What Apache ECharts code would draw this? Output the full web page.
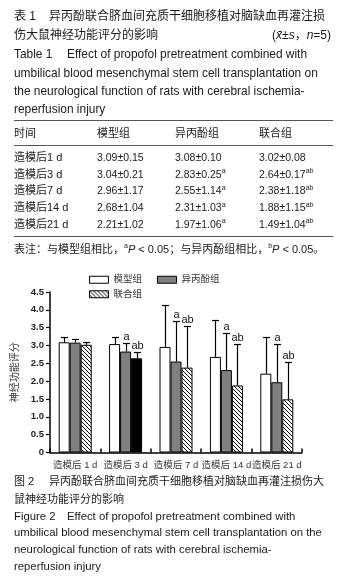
<!DOCTYPE html>
<html><head><meta charset="utf-8">
<script src="https://cdn.jsdelivr.net/npm/echarts@6/dist/echarts.min.js"></script>
<style>html,body{margin:0;padding:0;background:#fff}#c{width:348px;height:585px}</style>
</head><body><div id="c"></div>
<script>
// ---------- data ----------
const categories = ['造模后 1 d', '造模后 3 d', '造模后 7 d', '造模后 14 d', '造模后 21 d'];
const tableTimes = ['造模后1 d', '造模后3 d', '造模后7 d', '造模后14 d', '造模后21 d'];
const groupNames = ['模型组', '异丙酚组', '联合组'];
const modelMean = [3.09, 3.04, 2.96, 2.68, 2.21];
const modelSD   = [0.15, 0.21, 1.17, 1.04, 1.02];
const propMean  = [3.08, 2.83, 2.55, 2.31, 1.97];
const propSD    = [0.10, 0.25, 1.14, 1.03, 1.06];
const combMean  = [3.02, 2.64, 2.38, 1.88, 1.49];
const combSD    = [0.08, 0.17, 1.18, 1.15, 1.04];
const modelMark = ['', '', '', '', ''];
const propMark  = ['', 'a', 'a', 'a', 'a'];
const combMark  = ['', 'ab', 'ab', 'ab', 'ab'];
const yTickValues = [0, 0.5, 1, 1.5, 2, 2.5, 3, 3.5, 4, 4.5];

// ---------- helpers ----------
const FONT = "'Liberation Sans','Noto Sans CJK SC',sans-serif";
const TXT = '#1a1a1a';
const BAR_W = 11;

function T(x, y, text, size, extra) {
  return { type: 'text', x: x, y: y, silent: true,
    style: Object.assign({ text: text, fontSize: size, fontFamily: FONT, fill: TXT,
      verticalAlign: 'middle', align: 'left' }, extra || {}) };
}
function L(y) {
  return { type: 'line', silent: true, shape: { x1: 14, y1: y, x2: 333, y2: y },
    style: { stroke: '#555', lineWidth: 1 } };
}
function makeHatch() {
  const c = document.createElement('canvas');
  c.width = 4; c.height = 4;
  const ctx = c.getContext('2d');
  ctx.fillStyle = '#fff'; ctx.fillRect(0, 0, 4, 4);
  ctx.fillStyle = '#000';
  for (let i = 0; i < 4; i++) ctx.fillRect(i, i, 1, 1);
  return c;
}
const measureCtx = document.createElement('canvas').getContext('2d');
function fitSize(text, width) {
  measureCtx.font = "20px 'Liberation Sans'";
  return 20 * width / measureCtx.measureText(text).width;
}
const fmt = (m, s) => m.toFixed(2) + '±' + s.toFixed(2);

// ---------- text (table + captions) ----------
const supRich = {
  n: { fontSize: 10.5, lineHeight: 14, fontFamily: FONT, fill: TXT },
  s: { fontSize: 7, lineHeight: 8, fontFamily: FONT, fill: TXT, verticalAlign: 'top' }
};
const tabEn = ['Effect of propofol pretreatment combined with',
  'umbilical blood mesenchymal stem cell transplantation on',
  'the neurological function of rats with cerebral ischemia-',
  'reperfusion injury'];
const figEn = ['Effect of propofol pretreatment combined with',
  'umbilical blood mesenchymal stem cell transplantation on the',
  'neurological function of rats with cerebral ischemia-',
  'reperfusion injury'];
const tabSize = fitSize(tabEn[1], 304);
const figSize = fitSize(figEn[1], 308);

const graphics = [];
graphics.push(T(14, 17, '表 1', 12));
graphics.push(T(49, 17, '异丙酚联合脐血间充质干细胞移植对脑缺血再灌注损', 12));
graphics.push(T(14, 36, '伤大鼠神经功能评分的影响', 12));
graphics.push(T(331, 36, '{p|(}{i|x̄}{p|±}{i|s}{p|，}{i|n}{p|=5)}', 12, {
  align: 'right',
  rich: { p: { fontSize: 12, fontFamily: FONT, fill: TXT },
          i: { fontSize: 12, fontFamily: FONT, fill: TXT, fontStyle: 'italic' } } }));
graphics.push(T(14, 55, 'Table 1', tabSize));
graphics.push(T(67, 55, tabEn[0], tabSize));
graphics.push(T(14, 74, tabEn[1], tabSize));
graphics.push(T(14, 92, tabEn[2], tabSize));
graphics.push(T(14, 110, tabEn[3], tabSize));
graphics.push(L(120.5));
const colX = [14, 97, 175, 259];
graphics.push(T(colX[0], 134, '时间', 11));
groupNames.forEach((g, k) => graphics.push(T(colX[k + 1], 134, g, 11)));
graphics.push(L(145.5));
tableTimes.forEach((t, i) => {
  const y = 158 + i * 16.7;
  graphics.push(T(colX[0], y, t, 11));
  graphics.push(T(colX[1], y, '{n|' + fmt(modelMean[i], modelSD[i]) + '}' + (modelMark[i] ? '{s|' + modelMark[i] + '}' : ''), 10.5, { rich: supRich }));
  graphics.push(T(colX[2], y, '{n|' + fmt(propMean[i], propSD[i]) + '}' + (propMark[i] ? '{s|' + propMark[i] + '}' : ''), 10.5, { rich: supRich }));
  graphics.push(T(colX[3], y, '{n|' + fmt(combMean[i], combSD[i]) + '}' + (combMark[i] ? '{s|' + combMark[i] + '}' : ''), 10.5, { rich: supRich }));
});
graphics.push(L(236.5));
graphics.push(T(14, 250, '{c|表注：与模型组相比，}{s|a}{i|P}{c| < 0.05；与异丙酚组相比，}{s|b}{i|P}{c| < 0.05。}', 11, {
  rich: {
    c: { fontSize: 11, lineHeight: 14, fontFamily: FONT, fill: TXT },
    i: { fontSize: 11, lineHeight: 14, fontFamily: FONT, fill: TXT, fontStyle: 'italic' },
    s: { fontSize: 7, lineHeight: 8, fontFamily: FONT, fill: TXT, verticalAlign: 'top' }
  } }));

graphics.push(T(14, 482, '图 2', 11));
graphics.push(T(49, 482, '异丙酚联合脐血间充质干细胞移植对脑缺血再灌注损伤大', 11));
graphics.push(T(14, 500, '鼠神经功能评分的影响', 11));
graphics.push(T(14, 517, 'Figure 2', figSize));
graphics.push(T(67, 517, figEn[0], figSize));
graphics.push(T(14, 533, figEn[1], figSize));
graphics.push(T(14, 550, figEn[2], figSize));
graphics.push(T(14, 567, figEn[3], figSize));

// ---------- chart ----------
function errSeries(k, means, sds, marks) {
  return {
    type: 'custom', name: 'err' + k, silent: true, z: 5,
    encode: { x: 0, y: 1 },
    renderItem: function (params, api) {
      const i = api.value(0), m = api.value(1), s = api.value(2);
      const base = api.coord([i, m]);
      const x = Math.round(base[0] + (k - 1) * BAR_W) + 0.5;
      const top = Math.round(api.coord([i, m + s])[1]) + 0.5;
      const st = { stroke: '#000', lineWidth: 1.2 };
      const children = [
        { type: 'line', shape: { x1: x, y1: base[1], x2: x, y2: top }, style: st },
        { type: 'line', shape: { x1: x - 3.5, y1: top, x2: x + 3.5, y2: top }, style: st }
      ];
      if (marks[i]) {
        children.push({ type: 'text', style: { text: marks[i], x: x, y: top - 1,
          align: 'center', verticalAlign: 'bottom', fontSize: 11, fontFamily: FONT, fill: '#111' } });
      }
      return { type: 'group', children: children };
    },
    data: means.map((m, i) => [i, m, sds[i]])
  };
}

const hatchPattern = { image: makeHatch(), repeat: 'repeat' };
const chart = echarts.init(document.getElementById('c'), null, { renderer: 'canvas' });
chart.setOption({
  animation: false,
  backgroundColor: '#fff',
  textStyle: { fontFamily: FONT },
  graphic: graphics,
  legend: [
    { data: [groupNames[0], groupNames[1]], left: 84, top: 270, itemWidth: 19, itemHeight: 7, itemGap: 15,
      icon: 'rect', selectedMode: false,
      itemStyle: { borderColor: '#000', borderWidth: 1 },
      textStyle: { fontSize: 9.5, fontFamily: FONT, color: '#333' } },
    { data: [groupNames[2]], left: 84, top: 284.5, itemWidth: 19, itemHeight: 7,
      icon: 'rect', selectedMode: false,
      itemStyle: { borderColor: '#000', borderWidth: 1 },
      textStyle: { fontSize: 9.5, fontFamily: FONT, color: '#333' } }
  ],
  grid: { left: 50, right: 46, top: 292, bottom: 132.5, containLabel: false },
  xAxis: {
    type: 'category', data: categories,
    axisLine: { lineStyle: { color: '#000', width: 1.5 } },
    axisTick: { show: true, inside: true, length: 4, lineStyle: { color: '#000', width: 1.5 } },
    axisLabel: { fontSize: 9.5, color: '#333', margin: 8, interval: 0, fontFamily: FONT },
    splitLine: { show: false }
  },
  yAxis: {
    type: 'value', min: 0, max: 4.5, interval: 0.5,
    name: '神经功能评分', nameLocation: 'middle', nameGap: 21,
    nameTextStyle: { fontSize: 10, color: '#333', fontFamily: FONT },
    axisLine: { show: true, lineStyle: { color: '#000', width: 1.5 } },
    axisTick: { show: true, length: 4, lineStyle: { color: '#000', width: 1.2 } },
    axisLabel: { fontSize: 9.5, fontWeight: 'bold', color: '#222', margin: 6,
      formatter: v => (yTickValues.indexOf(v) >= 0 ? (v === 0 ? '0' : v.toFixed(1)) : '') },
    splitLine: { show: false }
  },
  series: [
    { type: 'bar', name: groupNames[0], barWidth: BAR_W, barGap: '0%',
      itemStyle: { color: '#fff', borderColor: '#000', borderWidth: 1 }, data: modelMean },
    { type: 'bar', name: groupNames[1], barWidth: BAR_W, barGap: '0%',
      itemStyle: { color: '#808080', borderColor: '#000', borderWidth: 1 }, data: propMean },
    { type: 'bar', name: groupNames[2], barWidth: BAR_W, barGap: '0%',
      itemStyle: { color: hatchPattern, borderColor: '#000', borderWidth: 1 },
      data: combMean.map((v, i) => (i === 1 ? { value: v, itemStyle: { color: '#000' } } : v)) },
    errSeries(0, modelMean, modelSD, modelMark),
    errSeries(1, propMean, propSD, propMark),
    errSeries(2, combMean, combSD, combMark)
  ]
});
</script>
</body></html>
